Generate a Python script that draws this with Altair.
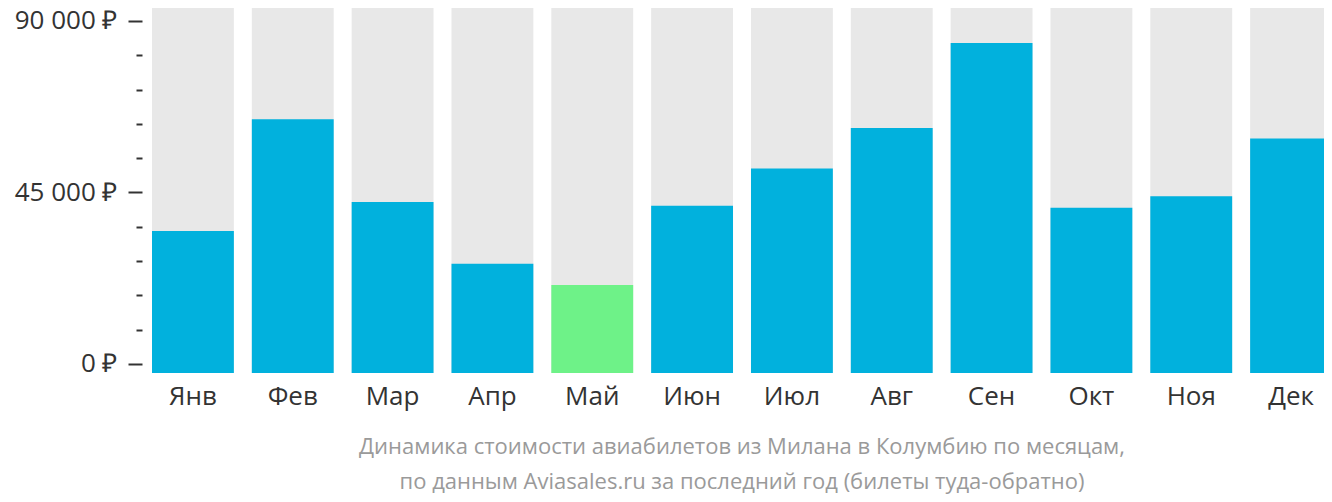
import altair as alt
import pandas as pd

months = ["Янв", "Фев", "Мар", "Апр", "Май", "Июн", "Июл", "Авг", "Сен", "Окт", "Ноя", "Дек"]
prices = [34900, 64200, 42500, 26300, 20700, 41500, 51300, 61900, 84200, 41000, 44000, 59200]

major_ticks = [0, 45000, 90000]
minor_ticks = [9000, 18000, 27000, 36000, 54000, 63000, 72000, 81000]
title_lines = [
    "Динамика стоимости авиабилетов из Милана в Колумбию по месяцам,",
    "по данным Aviasales.ru за последний год (билеты туда-обратно)",
]

Y_MIN = -2362
Y_MAX = 93411

df = pd.DataFrame({"month": months, "price": prices})
df["top"] = Y_MAX
df["base"] = Y_MIN

FONT = "Open Sans"
BLUE = "#01b1dd"
GREEN = "#6ef288"
GREY = "#e8e8e8"
TXT = "#333333"

yscale = alt.Scale(domain=[Y_MIN, Y_MAX], nice=False, zero=False)
xenc = alt.X(
    "month:N",
    sort=months,
    scale=alt.Scale(paddingInner=0.18, paddingOuter=0),
    axis=alt.Axis(
        title=None, ticks=False, domain=False, labelAngle=0,
        labelFont=FONT, labelFontSize=26, labelColor=TXT, labelPadding=10,
    ),
)

base = alt.Chart(df)

bg = base.mark_bar(color=GREY).encode(
    x=xenc,
    y=alt.Y(
        "top:Q", scale=yscale,
        axis=alt.Axis(
            title=None, values=major_ticks, domain=False, grid=False,
            tickSize=14, tickWidth=2, tickColor=TXT, offset=10,
            labelFont=FONT, labelFontSize=26, labelColor=TXT, labelPadding=11,
            labelExpr="replace(format(datum.value, ','), ',', ' ') + ' ₽'",
        ),
    ),
    y2="base:Q",
)

fg = base.transform_joinaggregate(min_price="min(price)").mark_bar().encode(
    x=xenc,
    y=alt.Y(
        "price:Q", scale=yscale,
        axis=alt.Axis(
            title=None, values=minor_ticks, domain=False, grid=False, orient="left",
            tickSize=6, tickWidth=2, tickColor=TXT, offset=10, labels=False,
        ),
    ),
    y2="base:Q",
    color=alt.condition("datum.price == datum.min_price", alt.value(GREEN), alt.value(BLUE)),
)

chart = (
    alt.layer(bg, fg)
    .resolve_axis(y="independent")
    .properties(
        width=1180,
        height=365,
        autosize=alt.AutoSizeParams(type="none"),
        padding={"left": 144, "top": 0, "right": -8, "bottom": 121},
        title=alt.TitleParams(
            title_lines, orient="bottom", anchor="middle", frame="group",
            font=FONT, fontSize=22, fontWeight="normal", color="#9a9a9a",
            lineHeight=35, offset=28,
        ),
    )
    .configure_view(stroke=None)
)

chart.save("out.html", embed_options={"renderer": "svg", "actions": False})
